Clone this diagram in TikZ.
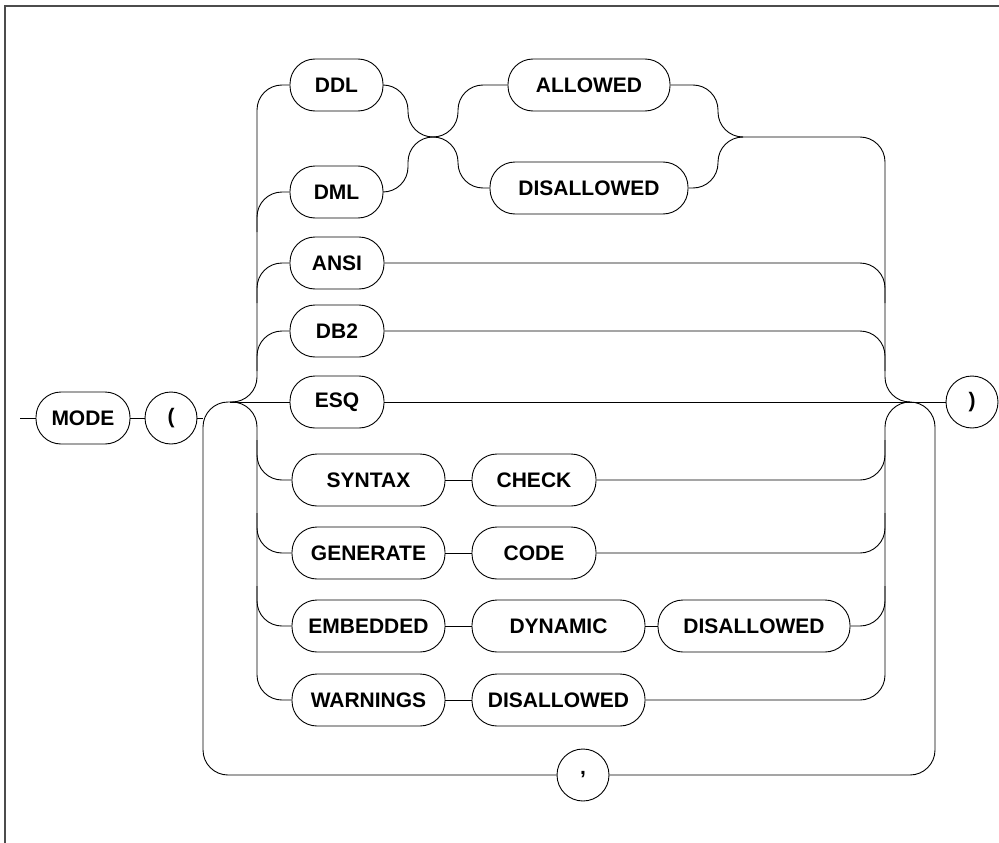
\documentclass[tikz,border=0pt]{standalone}
\usepackage{fontspec}
\setmainfont{Liberation Sans}
\begin{document}
\begin{tikzpicture}[x=1pt,y=-1pt, line width=0.9pt,
  box/.style={draw, rounded corners=25pt, minimum height=52pt, inner sep=0pt, font=\bfseries\fontsize{21}{25}\selectfont},
  term/.style={draw, circle, minimum size=52pt, inner sep=0pt, font=\bfseries\fontsize{21}{25}\selectfont},
  rail/.style={rounded corners=25pt},
  frameline/.style={draw=black!70, line width=1.5pt}]
\useasboundingbox (0,0) rectangle (999,843);
\draw[frameline] (5,843) -- (5,6) -- (999,6);

% nodes
\node[box, minimum width=94pt] (MODE) at (83,418) {MODE};
\node[term] (LP) at (171,418) {(};
\node[term] (RP) at (972,402) {)};
\node[term] (COMMA) at (583,775) {,};

\node[box, minimum width=93pt] (DDL) at (336.5,85) {DDL};
\node[box, minimum width=93pt] (DML) at (336.5,192) {DML};
\node[box, minimum width=162pt] (ALW) at (589,85) {ALLOWED};
\node[box, minimum width=198pt] (DIS1) at (589,188) {DISALLOWED};
\node[box, minimum width=94pt] (ANSI) at (337,263) {ANSI};
\node[box, minimum width=94pt] (DB2) at (337,331) {DB2};
\node[box, minimum width=94pt] (ESQ) at (337,402) {ESQ};
\node[box, minimum width=153pt] (SYN) at (368.5,480) {SYNTAX};
\node[box, minimum width=124pt] (CHK) at (534,480) {CHECK};
\node[box, minimum width=153pt] (GEN) at (368.5,553) {GENERATE};
\node[box, minimum width=124pt] (CODE) at (534,553) {CODE};
\node[box, minimum width=153pt] (EMB) at (368.5,626) {EMBEDDED};
\node[box, minimum width=173pt] (DYN) at (558.5,626) {DYNAMIC};
\node[box, minimum width=192pt] (DIS2) at (754,626) {DISALLOWED};
\node[box, minimum width=153pt] (WAR) at (368.5,700) {WARNINGS};
\node[box, minimum width=173pt] (DIS3) at (558.5,700) {DISALLOWED};

% coordinates
\coordinate (start) at (20,418);
\coordinate (j1) at (203,418);
\coordinate (m1) at (433,137);
\coordinate (m2) at (743,137);
\coordinate (esqL) at (230,402);
\coordinate (esqR) at (910,402);

% main line
\draw (start) -- (MODE.west);
\draw (MODE.east) -- (LP.west);
\draw (LP.east) -- (j1);
\draw (esqL) -- (ESQ.west);
\draw (ESQ.east) -- (RP.west);

% repeat loop with comma
\draw[rail] (COMMA.west) -- (203,775) -- (203,402) -- (257,402) -- (257,700) -- (WAR.west);
\draw[rail] (COMMA.east) -- (935,775) -- (935,402) -- (885,402) -- (885,700) -- (DIS3.east);

% upper collectors
\draw[rail] (esqL) -- (257,402) -- (257,85) -- (DDL.west);
\draw[rail] (m2) -- (885,137) -- (885,402) -- (esqR);

% upper rows
\foreach \n/\y in {DML/192, ANSI/263, DB2/331}
  \draw[rail] (257,\y+40) -- (257,\y) -- (\n.west);
\foreach \n/\y in {ANSI/263, DB2/331}
  \draw[rail] (\n.east) -- (885,\y) -- (885,\y+40);

% lower rows
\foreach \n/\y in {SYN/480, GEN/553, EMB/626}
  \draw[rail] (257,\y-40) -- (257,\y) -- (\n.west);
\foreach \n/\y in {CHK/480, CODE/553, DIS2/626}
  \draw[rail] (\n.east) -- (885,\y) -- (885,\y-40);

\draw (SYN.east) -- (CHK.west);
\draw (GEN.east) -- (CODE.west);
\draw (EMB.east) -- (DYN.west);
\draw (DYN.east) -- (DIS2.west);
\draw (WAR.east) -- (DIS3.west);

% DDL/DML x ALLOWED/DISALLOWED
\draw[rail] (DDL.east) -- (408,85) -- (408,137) -- (m1);
\draw[rail] (DML.east) -- (408,192) -- (408,137) -- (m1);
\draw[rail] (m1) -- (458,137) -- (458,85) -- (ALW.west);
\draw[rail] (m1) -- (458,137) -- (458,188) -- (DIS1.west);
\draw[rail] (ALW.east) -- (718,85) -- (718,137) -- (m2);
\draw[rail] (DIS1.east) -- (718,188) -- (718,137) -- (m2);
\end{tikzpicture}
\end{document}
